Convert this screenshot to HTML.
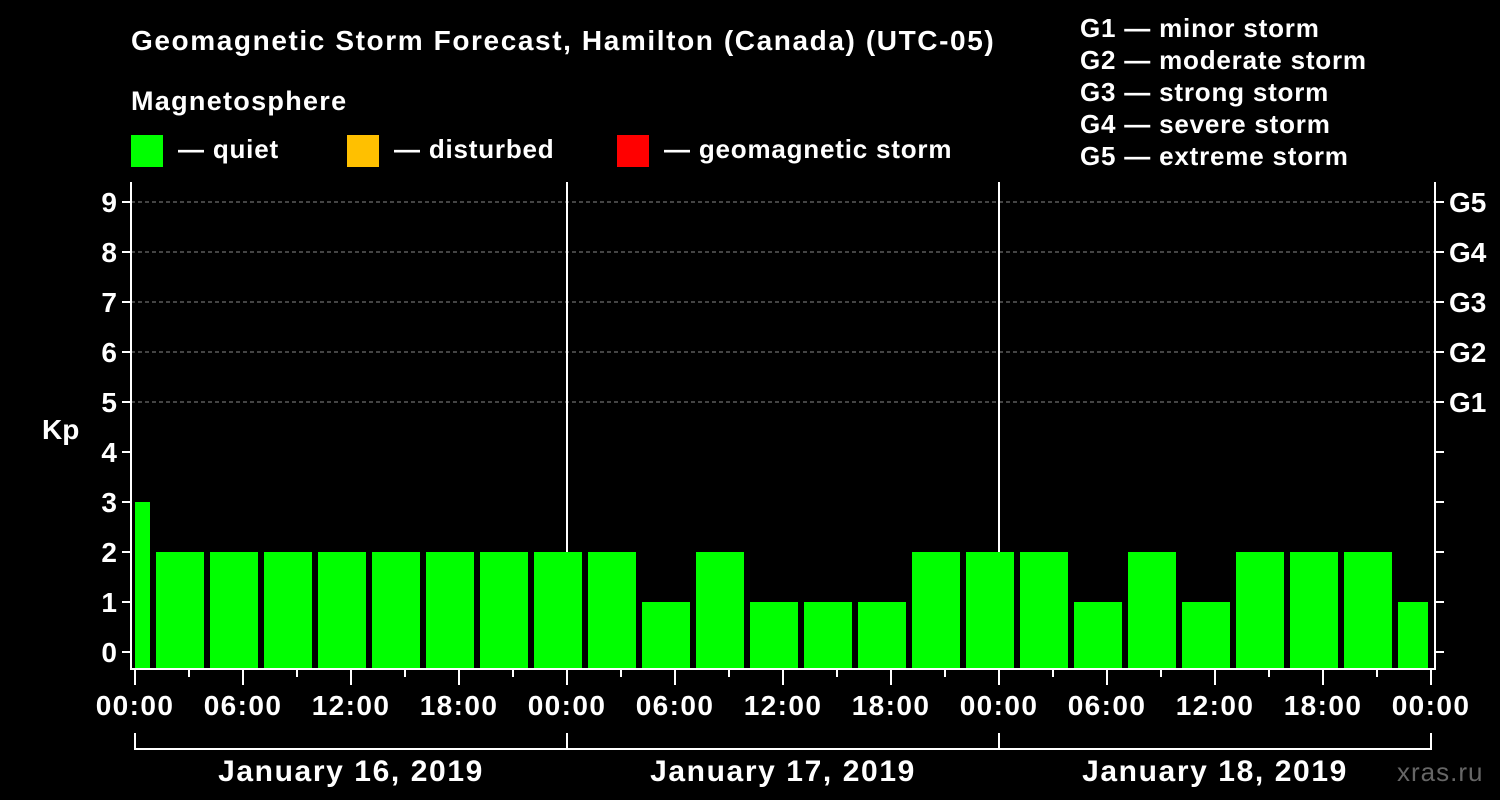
<!DOCTYPE html>
<html><head><meta charset="utf-8"><style>
body{margin:0;background:#000;width:1500px;height:800px;overflow:hidden}
svg{display:block;font-family:"Liberation Sans",sans-serif;font-weight:bold}
</style></head><body>
<svg id="c" width="1500" height="800" viewBox="0 0 1500 800">
<text x="131" y="50" fill="#fff" font-size="28" letter-spacing="1.6">Geomagnetic Storm Forecast, Hamilton (Canada) (UTC-05)</text>
<text x="131" y="110" fill="#fff" font-size="27" letter-spacing="1.3">Magnetosphere</text>
<g><rect x="131" y="135" width="32" height="32" fill="#00ff00"/><text x="178" y="158" fill="#fff" font-size="26" letter-spacing="0.8">— quiet</text></g>
<g><rect x="347" y="135" width="32" height="32" fill="#ffc000"/><text x="394" y="158" fill="#fff" font-size="26" letter-spacing="0.8">— disturbed</text></g>
<g><rect x="617" y="135" width="32" height="32" fill="#ff0000"/><text x="664" y="158" fill="#fff" font-size="26" letter-spacing="0.8">— geomagnetic storm</text></g>
<g fill="#fff" font-size="26" letter-spacing="0.8">
<text x="1080" y="37">G1 — minor storm</text><text x="1080" y="69">G2 — moderate storm</text><text x="1080" y="101">G3 — strong storm</text><text x="1080" y="133">G4 — severe storm</text><text x="1080" y="165">G5 — extreme storm</text></g>
<text x="42" y="439" fill="#fff" font-size="28">Kp</text>
<text x="1397" y="781" fill="#666" font-size="26" letter-spacing="1" font-weight="normal">xras.ru</text>
<g id="grid"></g><g id="bars"></g><g id="axes"></g>
</svg>
<script>
const kpValues=[3,2,2,2,2,2,2,2,2,2,1,2,1,1,1,2,2,2,1,2,1,2,2,2,1];
const kpTicks=[0,1,2,3,4,5,6,7,8,9];
const gLabels=["G1","G2","G3","G4","G5"];
const gLevels=[5,6,7,8,9];
const hourLabels=["00:00","06:00","12:00","18:00","00:00","06:00","12:00","18:00","00:00","06:00","12:00","18:00","00:00"];
const dayLabels=["January 16, 2019","January 17, 2019","January 18, 2019"];
const NS="http://www.w3.org/2000/svg";
const X0=135,PX_H=18,Y0=652,PX_K=50,BOT=668,TOP=182,LEFT=131,RIGHT=1435;
const x=h=>X0+h*PX_H, y=k=>Y0-k*PX_K;
function mk(p,t,a){const e=document.createElementNS(NS,t);for(const k in a)e.setAttribute(k,a[k]);document.getElementById(p).appendChild(e);return e;}
gLevels.forEach(k=>{const e=mk('grid','line',{x1:LEFT,x2:RIGHT,y1:y(k),y2:y(k),stroke:'#888','stroke-dasharray':'4,3','stroke-width':1});

});
[1,2].forEach(d=>{const e=mk('grid','line',{x1:x(d*24),x2:x(d*24),y1:TOP,y2:BOT,stroke:'#fff','stroke-width':2});

});
kpValues.forEach((v,i)=>{const s=i*3-2, e=s+3;
let a=Math.max(x(s)+3,x(0)), b=Math.min(x(e)-3,x(72)-3);
const c=v>=5?'#ff0000':(v>=4?'#ffc000':'#00ff00');
const r=mk('bars','rect',{x:a,y:y(v),width:b-a,height:BOT-y(v),fill:c});

});
let ax=mk('axes','path',{d:`M${LEFT},${TOP} V${BOT+1} H${RIGHT} V${TOP}`,stroke:'#fff','stroke-width':2,fill:'none'});


kpTicks.forEach(k=>{mk('axes','line',{x1:LEFT-9,x2:LEFT,y1:y(k),y2:y(k),stroke:'#fff','stroke-width':2});
mk('axes','line',{x1:RIGHT,x2:RIGHT+9,y1:y(k),y2:y(k),stroke:'#fff','stroke-width':2});
const t=mk('axes','text',{x:LEFT-14,y:y(k)+10,fill:'#fff','font-size':28,'text-anchor':'end'});t.textContent=k;

});
gLabels.forEach((g,i)=>{const t=mk('axes','text',{x:RIGHT+14,y:y(gLevels[i])+10,fill:'#fff','font-size':28});t.textContent=g;

});
for(let h=0;h<=72;h+=3){mk('axes','line',{x1:x(h),x2:x(h),y1:BOT+2,y2:BOT+(h%6?9:17),stroke:'#fff','stroke-width':2});}
hourLabels.forEach((l,i)=>{const t=mk('axes','text',{x:x(i*6),y:715,fill:'#fff','font-size':28,'letter-spacing':1.4,'text-anchor':'middle'});t.textContent=l;

});
let br=mk('axes','path',{d:`M${x(0)},733 V749 H${x(72)} V733 M${x(24)},733 V749 M${x(48)},733 V749`,stroke:'#fff','stroke-width':2,fill:'none'});


dayLabels.forEach((l,i)=>{const t=mk('axes','text',{x:x(i*24+12),y:781,fill:'#fff','font-size':30,'letter-spacing':1.6,'text-anchor':'middle'});t.textContent=l;

});
</script>
</body></html>
